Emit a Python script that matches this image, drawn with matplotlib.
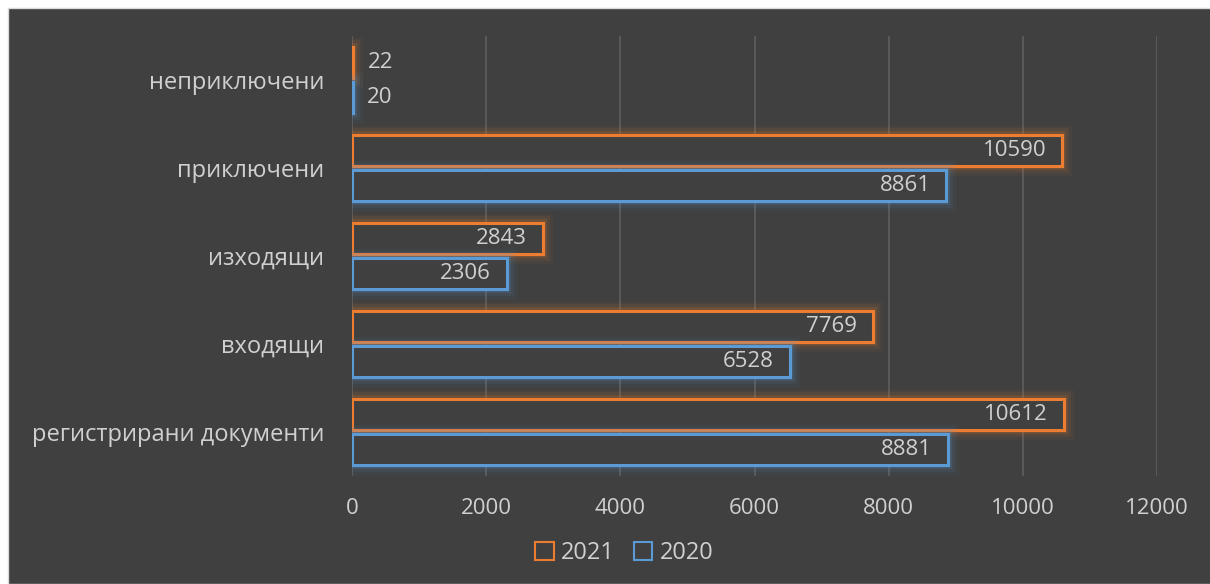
#!/usr/bin/env python3
# encoding: utf-8
import matplotlib
matplotlib.use("Agg")
import matplotlib.pyplot as plt
import matplotlib.patheffects as pe
from matplotlib.patches import Patch, Rectangle
import numpy as np

# данни
categories = ["регистрирани документи", "входящи", "изходящи", "приключени", "неприключени"]
values_2021 = [10612, 7769, 2843, 10590, 22]
values_2020 = [8881, 6528, 2306, 8861, 20]
series_names = ["2021", "2020"]
x_ticks = [0, 2000, 4000, 6000, 8000, 10000, 12000]

bg = "#404040"
txt = "#d0d0d0"
orange = "#ED7D31"
blue = "#5B9BD5"

plt.rcParams['font.family'] = ['Open Sans', 'DejaVu Sans']

fig = plt.figure(figsize=(12.1, 5.84), dpi=100, facecolor="white")
# тъмен фон с бяла рамка отляво и отгоре
fig.patches.append(Rectangle((8 / 1210, 0), 1, 1 - 8 / 584, transform=fig.transFigure,
                             facecolor=bg, edgecolor="#d9d9d9", linewidth=1, zorder=-10))

ax = fig.add_axes([352 / 1210, 1 - 476 / 584, (1157 - 352) / 1210, (476 - 36) / 584])
ax.set_facecolor(bg)
ax.set_zorder(1)

y = np.arange(len(categories))
h = 0.36
off = 0.2


def glow(color):
    return [pe.withStroke(linewidth=14, foreground=color, alpha=0.05),
            pe.withStroke(linewidth=10, foreground=color, alpha=0.08),
            pe.withStroke(linewidth=6, foreground=color, alpha=0.15),
            pe.Normal()]


for vals, pos, col in [(values_2021, y + off, orange), (values_2020, y - off, blue)]:
    bars = ax.barh(pos, vals, height=h, facecolor=bg, edgecolor=col, linewidth=2.2, zorder=3)
    for b in bars:
        b.set_path_effects(glow(col))
    for v, p in zip(vals, pos):
        if v > 1000:
            ax.annotate(str(v), (v, p), xytext=(-16, 0), textcoords="offset pixels",
                        ha="right", va="center", color=txt, fontsize=16, zorder=4)
        else:
            ax.annotate(str(v), (v, p), xytext=(14, 0), textcoords="offset pixels",
                        ha="left", va="center", color=txt, fontsize=16, zorder=4)

ax.set_xlim(0, 12000)
ax.set_ylim(-0.5, len(categories) - 0.5)
ax.set_xticks(x_ticks)
ax.set_xticklabels([str(t) for t in x_ticks])
ax.set_yticks(y)
ax.set_yticklabels(categories)
ax.tick_params(axis="x", length=0, colors=txt, labelsize=16, pad=16)
ax.tick_params(axis="y", length=0, colors=txt, labelsize=17, pad=20)
ax.grid(axis="x", color="#5a5a5a", linewidth=1.4, zorder=0)
ax.set_axisbelow(True)
for s in ax.spines.values():
    s.set_visible(False)

handles = [Patch(facecolor="none", edgecolor=orange, linewidth=1.5, label=series_names[0]),
           Patch(facecolor="none", edgecolor=blue, linewidth=1.5, label=series_names[1])]
leg = fig.legend(handles=handles, loc="center", bbox_to_anchor=(624 / 1210, 1 - 553 / 584),
                 ncol=2, frameon=False, fontsize=17, handlelength=0.8, handleheight=0.8,
                 handletextpad=0.3, columnspacing=0.8)
for t in leg.get_texts():
    t.set_color(txt)

fig.savefig("out.png", dpi=100, facecolor=fig.get_facecolor())
